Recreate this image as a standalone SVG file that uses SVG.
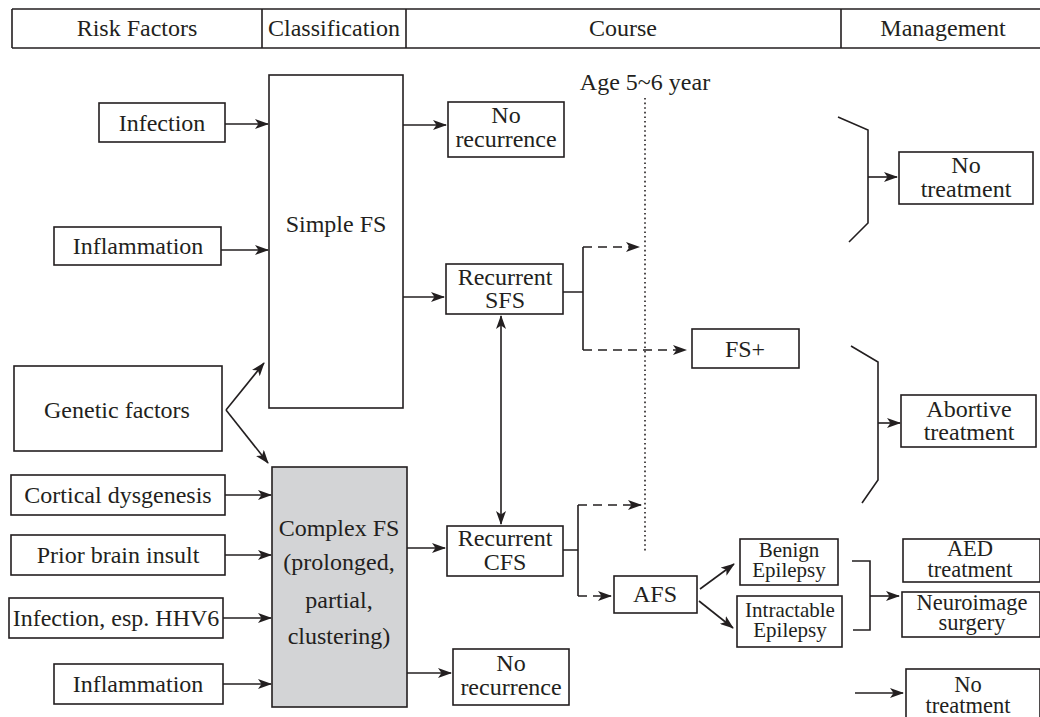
<svg xmlns="http://www.w3.org/2000/svg" width="1040" height="717" viewBox="0 0 1040 717">
<defs>
<marker id="ah" viewBox="0 0 14 10" refX="13" refY="5" markerWidth="14" markerHeight="10" markerUnits="userSpaceOnUse" orient="auto-start-reverse">
<path d="M0,0 L14,5 L0,10 L3.5,5 Z" fill="#231f20"/>
</marker>
</defs>
<style>
.b{fill:#fff;stroke:#231f20;stroke-width:1.6}
.g{fill:#d3d4d6;stroke:#231f20;stroke-width:1.6}
text{font-family:"Liberation Serif","Times New Roman",serif;fill:#231f20;font-size:24px;text-anchor:middle}
.s{font-size:21px}
.t{font-size:22.5px}
.c{stroke:#231f20;stroke-width:1.6;fill:none}
.a{marker-end:url(#ah)}
.d{stroke-dasharray:9,6}
.dot{stroke-dasharray:1.6,3}
</style>
<rect width="1040" height="717" fill="#fff"/>
<g id="header">
<path class="c" d="M12,9 H1040 M12,48 H1040 M12,9 V48 M262,9 V48 M406,9 V48 M841,9 V48"/>
<text x="137" y="36">Risk Factors</text>
<text x="334" y="36">Classification</text>
<text x="623" y="36">Course</text>
<text x="943" y="36">Management</text>
</g>
<g id="infection"><rect class="b" x="99" y="103" width="126" height="39"/><text x="162" y="131">Infection</text></g>
<g id="inflammation1"><rect class="b" x="54" y="227" width="167" height="38"/><text x="138" y="254">Inflammation</text></g>
<g id="genetic"><rect class="b" x="14" y="366" width="208" height="85"/><text x="117" y="418">Genetic factors</text></g>
<g id="cortical"><rect class="b" x="11" y="475" width="214" height="40"/><text x="118" y="503">Cortical dysgenesis</text></g>
<g id="prior"><rect class="b" x="11" y="535" width="214" height="40"/><text x="118" y="563">Prior brain insult</text></g>
<g id="hhv6"><rect class="b" x="9" y="598" width="214" height="40"/><text x="116" y="626">Infection, esp. HHV6</text></g>
<g id="inflammation2"><rect class="b" x="54" y="664" width="169" height="40"/><text x="138" y="692">Inflammation</text></g>
<g id="simplefs"><rect class="b" x="269" y="75" width="134" height="333"/><text x="336" y="232">Simple FS</text></g>
<g id="complexfs"><rect class="g" x="272" y="467" width="135" height="240"/>
<text x="339" y="536">Complex FS</text><text x="339" y="570">(prolonged,</text><text x="339" y="608">partial,</text><text x="339" y="644">clustering)</text></g>
<g id="norec1"><rect class="b" x="448" y="102" width="116" height="55"/><text x="506" y="123">No</text><text x="506" y="147">recurrence</text></g>
<g id="rsfs"><rect class="b" x="446" y="264" width="117" height="50"/><text x="505" y="285">Recurrent</text><text x="505" y="308">SFS</text></g>
<g id="rcfs"><rect class="b" x="447" y="526" width="116" height="50"/><text x="505" y="546">Recurrent</text><text x="505" y="570">CFS</text></g>
<g id="norec2"><rect class="b" x="453" y="649" width="116" height="56"/><text x="511" y="671">No</text><text x="511" y="695">recurrence</text></g>
<g id="age"><text x="645" y="90">Age 5~6 year</text></g>
<g id="fsplus"><rect class="b" x="692" y="329" width="107" height="39"/><text x="745" y="357">FS+</text></g>
<g id="afs"><rect class="b" x="614" y="576" width="83" height="37"/><text x="655" y="602">AFS</text></g>
<g id="benign"><rect class="b" x="740" y="539" width="98" height="46"/><text class="s" x="789" y="557">Benign</text><text class="s" x="789" y="577">Epilepsy</text></g>
<g id="intractable"><rect class="b" x="737" y="596" width="105" height="51"/><text class="s" x="790" y="617">Intractable</text><text class="s" x="790" y="637">Epilepsy</text></g>
<g id="notreat1"><rect class="b" x="899" y="152" width="134" height="52"/><text x="966" y="173">No</text><text x="966" y="197">treatment</text></g>
<g id="abortive"><rect class="b" x="901" y="395" width="135" height="52"/><text x="969" y="417">Abortive</text><text x="969" y="440">treatment</text></g>
<g id="aed"><rect class="b" x="903" y="539" width="137" height="43"/><text class="t" x="970" y="556">AED</text><text class="t" x="970" y="577">treatment</text></g>
<g id="neuro"><rect class="b" x="902" y="592" width="138" height="45"/><text class="t" x="972" y="610">Neuroimage</text><text class="t" x="972" y="630">surgery</text></g>
<g id="notreat2"><rect class="b" x="906" y="669" width="134" height="55"/><text class="t" x="968" y="692">No</text><text class="t" x="968" y="713">treatment</text></g>
<g id="connectors">
<path class="c a" d="M225,124 H268"/>
<path class="c a" d="M221,250 H268"/>
<path class="c a" d="M226,410 L264,363"/>
<path class="c a" d="M226,410 L268,463"/>
<path class="c a" d="M225,495 H271"/>
<path class="c a" d="M225,555 H271"/>
<path class="c a" d="M223,618 H271"/>
<path class="c a" d="M223,684 H271"/>
<path class="c a" d="M403,125 H446"/>
<path class="c a" d="M403,297 H444"/>
<path class="c a" d="M407,548 H445"/>
<path class="c a" d="M407,673 H451"/>
<path class="c a" d="M501,316 V524" marker-start="url(#ah)"/>
<path class="c" d="M563,292 H583 M583,247 V350"/>
<path class="c d a" d="M583,247 H639"/>
<path class="c d a" d="M583,350 H686"/>
<path class="c" d="M563,550 H578 M578,505 V596"/>
<path class="c d a" d="M578,505 H641"/>
<path class="c d a" d="M578,596 H611"/>
<path class="c dot" d="M645,98 V553"/>
<path class="c a" d="M700,589 L734,564"/>
<path class="c a" d="M699,601 L733,628"/>
<path class="c" d="M838,117 L868,130 V223 L849,242"/>
<path class="c a" d="M868,177 H897"/>
<path class="c" d="M851,346 L878,362 V480 L862,503"/>
<path class="c a" d="M878,423 H900"/>
<path class="c" d="M852,561 H870 V630 H853"/>
<path class="c a" d="M870,596 H899"/>
<path class="c a" d="M855,693 H903"/>
</g>
</svg>
